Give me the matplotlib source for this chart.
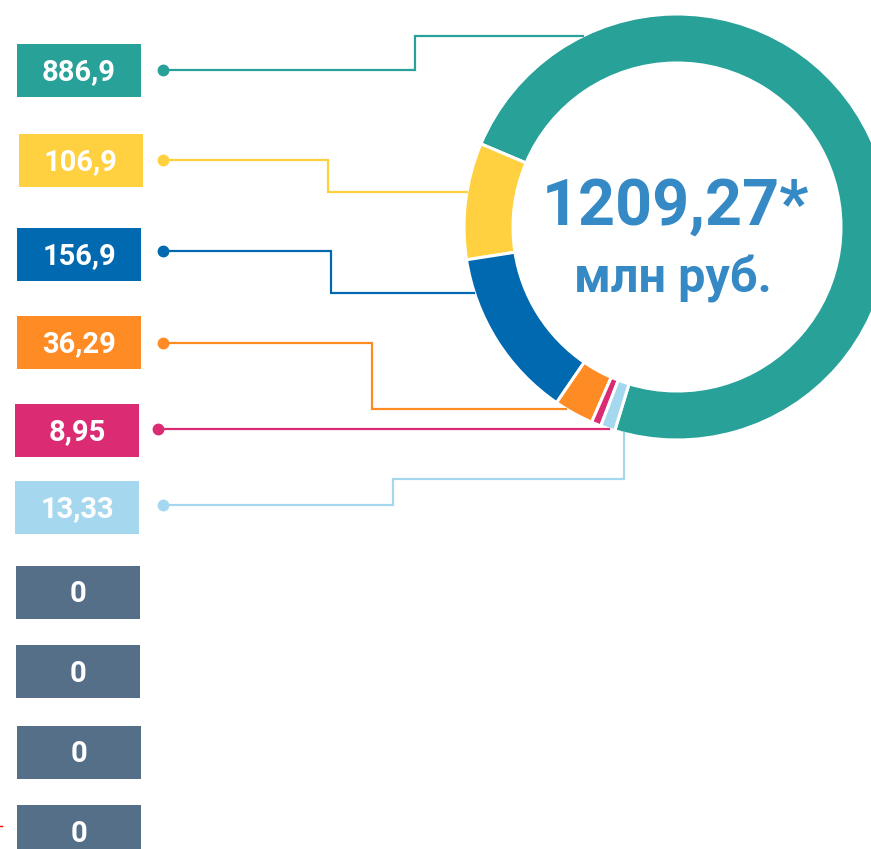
import matplotlib
matplotlib.use('Agg')
import matplotlib.pyplot as plt
from matplotlib.patches import Rectangle
import numpy as np

# ---- data ----
values = [886.9, 106.9, 156.9, 36.29, 8.95, 13.33, 0, 0, 0, 0]
labels = ['886,9', '106,9', '156,9', '36,29', '8,95', '13,33', '0', '0', '0', '0']
colors = ['#28A199', '#FFD141', '#0069B0', '#FF8B25', '#DB2B73', '#A5D8EE',
          '#566F88', '#566F88', '#566F88', '#566F88']
total_text = '1209,27*'
unit_text = 'млн руб.'

# ---- layout (pixel coords, y downward) ----
W, H = 871, 849
cx, cy, R, ring = 677, 227, 213, 49
box_x = [17, 19, 17, 17, 15, 15, 16, 16, 17, 17]
box_top = [44, 134, 228, 316, 404, 481, 566, 645, 726, 805]
box_w, box_h = 124, 53
# leader paths: vertices from dot, last segment goes to ring edge ('h' horizontal, 'v' vertical)
leaders = [
    ([(163, 70), (415, 70), (415, 36)], 'h'),
    ([(163, 160), (328, 160), (328, 192)], 'h'),
    ([(163, 251), (331, 251), (331, 293)], 'h'),
    ([(163, 343), (372, 343), (372, 409)], 'h'),
    ([(158, 429)], 'h'),
    ([(163, 505), (393, 505), (393, 479), (624, 479)], 'v'),
]

fig = plt.figure(figsize=(W / 100, H / 100), dpi=100)
ax = fig.add_axes([0, 0, 1, 1])

def Y(y):
    return H - y

nz = [v for v in values if v > 0]
ax.pie(nz, colors=colors[:len(nz)], startangle=253, counterclock=True,
       radius=R, center=(cx, Y(cy)),
       wedgeprops=dict(width=ring, edgecolor='white', linewidth=2.2))
ax.set_xlim(0, W)
ax.set_ylim(0, H)
ax.set_aspect('equal')
ax.axis('off')

# leader lines
for (pts, mode), col in zip(leaders, colors):
    lx, ly = pts[-1]
    if mode == 'h':
        ex = cx - np.sqrt(R ** 2 - (ly - cy) ** 2)
        end = (ex, ly)
    else:
        ey = cy + np.sqrt(R ** 2 - (lx - cx) ** 2)
        end = (lx, ey)
    allp = pts + [end]
    xs = [p[0] for p in allp]
    ys = [Y(p[1]) for p in allp]
    ax.plot(xs, ys, color=col, lw=1.6, solid_joinstyle='miter', zorder=3)
    ax.plot(xs[0], ys[0], 'o', color=col, ms=7.5, zorder=4)

# label boxes
for i, (lab, col) in enumerate(zip(labels, colors)):
    x0, t = box_x[i], box_top[i]
    ax.add_patch(Rectangle((x0, Y(t + box_h)), box_w, box_h, facecolor=col,
                           edgecolor='none', zorder=2))
    ax.text(x0 + box_w / 2, Y(t + box_h / 2 + 10), lab, color='white',
            fontsize=21, fontweight='bold', family='Roboto',
            ha='center', va='baseline', zorder=5)

# center text
ax.text(cx - 2, Y(225), total_text, color='#3589C5', fontsize=46.5,
        fontweight='bold', family='Roboto', ha='center', va='baseline')
ax.text(cx - 4, Y(292), unit_text, color='#3589C5', fontsize=35,
        fontweight='bold', family='Roboto', ha='center', va='baseline')

# small red mark at left edge
ax.plot([0, 2], [Y(826), Y(826)], color='red', lw=1)

fig.savefig('out.png', dpi=100)
